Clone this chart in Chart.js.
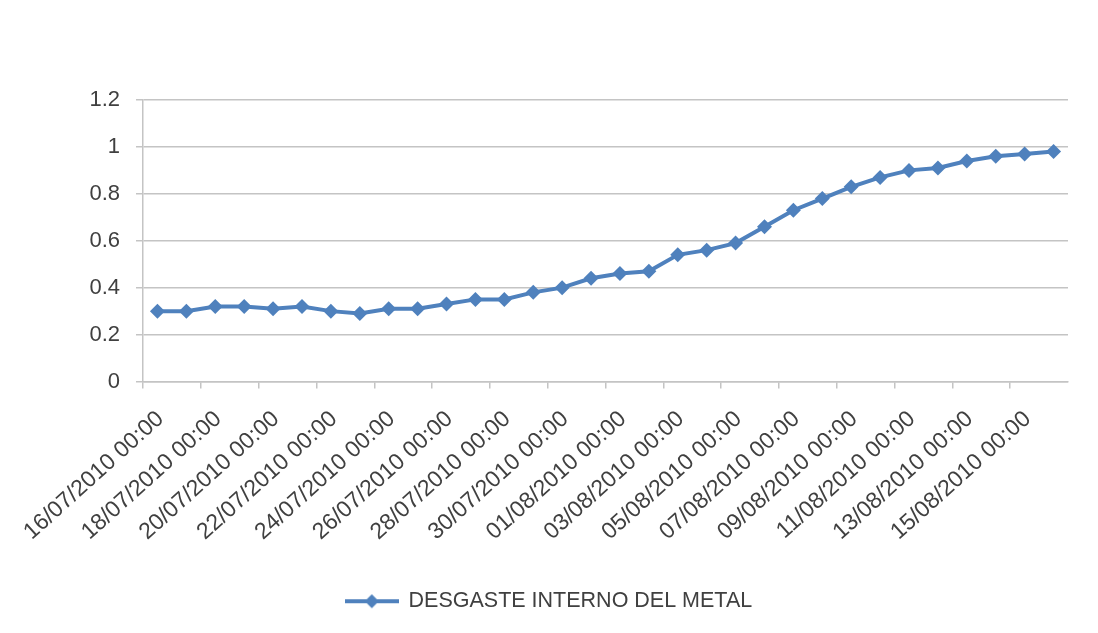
<!DOCTYPE html>
<html>
<head>
<meta charset="utf-8">
<script src="https://cdn.jsdelivr.net/npm/chart.js@4"></script>
<style>
  html, body { margin: 0; padding: 0; background: #ffffff; }
  #wrap { width: 1098px; height: 633px; position: relative; }
</style>
</head>
<body>
<div id="wrap"><canvas id="c" width="1098" height="633"></canvas></div>
<script>
// ---- data ----
const categories = [
  "16/07/2010 00:00","17/07/2010 00:00","18/07/2010 00:00","19/07/2010 00:00",
  "20/07/2010 00:00","21/07/2010 00:00","22/07/2010 00:00","23/07/2010 00:00",
  "24/07/2010 00:00","25/07/2010 00:00","26/07/2010 00:00","27/07/2010 00:00",
  "28/07/2010 00:00","29/07/2010 00:00","30/07/2010 00:00","31/07/2010 00:00",
  "01/08/2010 00:00","02/08/2010 00:00","03/08/2010 00:00","04/08/2010 00:00",
  "05/08/2010 00:00","06/08/2010 00:00","07/08/2010 00:00","08/08/2010 00:00",
  "09/08/2010 00:00","10/08/2010 00:00","11/08/2010 00:00","12/08/2010 00:00",
  "13/08/2010 00:00","14/08/2010 00:00","15/08/2010 00:00","16/08/2010 00:00"
];
const desgaste = [
  0.30, 0.30, 0.32, 0.32, 0.31, 0.32, 0.30, 0.29,
  0.31, 0.31, 0.33, 0.35, 0.35, 0.38, 0.40, 0.44,
  0.46, 0.47, 0.54, 0.56, 0.59, 0.66, 0.73, 0.78,
  0.83, 0.87, 0.90, 0.91, 0.94, 0.96, 0.97, 0.98
];
const seriesName = "DESGASTE INTERNO DEL METAL";
const yTickValues = [0, 0.2, 0.4, 0.6, 0.8, 1, 1.2];
const yTickLabels = ["0", "0.2", "0.4", "0.6", "0.8", "1", "1.2"];

// ---- styles ----
const blue = '#4F81BD';
const gridGray = '#C4C4C4';
const textGray = '#404040';
const fontFam = '"Liberation Sans", Arial, sans-serif';

// legend symbol: line with diamond
const sym = document.createElement('canvas');
sym.width = 54; sym.height = 18;
(function () {
  const g = sym.getContext('2d');
  g.strokeStyle = blue; g.lineWidth = 4;
  g.beginPath(); g.moveTo(0, 9); g.lineTo(54, 9); g.stroke();
  g.fillStyle = blue;
  g.beginPath(); g.moveTo(27, 2); g.lineTo(34, 9); g.lineTo(27, 16); g.lineTo(20, 9); g.closePath(); g.fill();
})();

new Chart(document.getElementById('c'), {
  type: 'line',
  data: {
    labels: categories,
    datasets: [{
      label: seriesName,
      data: desgaste,
      borderColor: blue,
      backgroundColor: blue,
      borderWidth: 4,
      pointStyle: 'rectRot',
      pointRadius: 7.5,
      pointHoverRadius: 7.5,
      pointBorderWidth: 0,
      pointBackgroundColor: blue,
      tension: 0,
      fill: false
    }]
  },
  options: {
    responsive: false,
    animation: false,
    devicePixelRatio: 1,
    layout: { padding: { top: 100, right: 30, left: 30, bottom: 11 } },
    plugins: {
      title: { display: false },
      tooltip: { enabled: false },
      legend: {
        display: true,
        position: 'bottom',
        labels: {
          usePointStyle: true,
          pointStyle: sym,
          pointStyleWidth: 52,
          boxHeight: 18,
          padding: 10,
          color: textGray,
          font: { family: fontFam, size: 21.5 }
        }
      }
    },
    scales: {
      x: {
        type: 'category',
        offset: true,
        afterFit: (s) => { s.height = 199; },
        grid: {
          offset: true,
          drawOnChartArea: false,
          drawTicks: true,
          tickLength: 7,
          tickColor: (ctx) => (ctx.index % 2 === 0 ? gridGray : 'rgba(0,0,0,0)'),
          color: gridGray,
          lineWidth: 1.5
        },
        border: { display: true, color: gridGray, width: 1.5 },
        ticks: {
          autoSkip: false,
          minRotation: 42,
          maxRotation: 42,
          padding: 17,
          labelOffset: 3,
          color: textGray,
          font: { family: fontFam, size: 23 },
          callback: function (v, i) { return i % 2 === 0 ? categories[i] : ''; }
        }
      },
      y: {
        min: 0,
        max: 1.2,
        afterFit: (s) => { s.width = 113; },
        afterBuildTicks: (s) => { s.ticks = yTickValues.map(v => ({ value: v })); },
        grid: {
          color: gridGray,
          lineWidth: 1.5,
          drawTicks: true,
          tickLength: 7
        },
        border: { display: true, color: gridGray, width: 1.5 },
        ticks: {
          padding: 16,
          color: textGray,
          font: { family: fontFam, size: 22 },
          callback: function (v, i) { return yTickLabels[i]; }
        }
      }
    }
  }
});
</script>
</body>
</html>
